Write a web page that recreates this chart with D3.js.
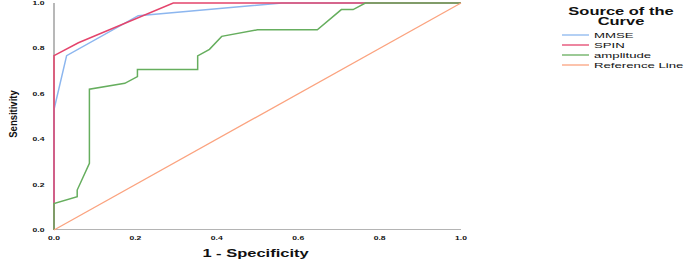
<!DOCTYPE html>
<html>
<head>
<meta charset="utf-8">
<script src="https://cdn.jsdelivr.net/npm/d3@7"></script>
<style>
  body { margin: 0; background: #fff; }
  text { font-family: Arial, "Liberation Sans", sans-serif; fill: #111; }
</style>
</head>
<body>
<div id="plot"></div>
<script>
// ROC points [1 - specificity, sensitivity]
var mmse = [[0, 0], [0, 0.53], [0.031, 0.768], [0.207, 0.944], [0.56, 1], [1, 1]];
var spin = [[0, 0], [0, 0.768], [0.06, 0.825], [0.293, 1], [1, 1]];
var amplitude = [[0, 0], [0, 0.117], [0.057, 0.147], [0.057, 0.176], [0.087, 0.294],
  [0.087, 0.62], [0.174, 0.646], [0.205, 0.676], [0.205, 0.707], [0.353, 0.707],
  [0.353, 0.767], [0.382, 0.796], [0.412, 0.853], [0.5, 0.882], [0.647, 0.882],
  [0.706, 0.971], [0.735, 0.971], [0.765, 1], [1, 1]];
var reference = [[0, 0], [1, 1]];

var seriesNames = ["MMSE", "SPIN", "amplitude", "Reference Line"];
var seriesData = [mmse, spin, amplitude, reference];
var seriesColors = ["#8cb6ef", "#e4446c", "#66ae5e", "#fba37f"];
var ticks = [0, 0.2, 0.4, 0.6, 0.8, 1.0];

var width = 685, height = 262;
var stretch = 1.65;

var svg = d3.select("#plot")
  .append("svg")
    .attr("width", width)
    .attr("height", height);

var x = d3.scaleLinear().domain([0, 1]).range([54, 461]);
var y = d3.scaleLinear().domain([0, 1]).range([230, 3]);

// axis lines
svg.append("line")
  .attr("x1", x(0)).attr("x2", x(1))
  .attr("y1", y(0) - 0.5).attr("y2", y(0) - 0.5)
  .style("stroke", "#b4b4b4").style("stroke-width", 1);
svg.append("line")
  .attr("x1", x(0)).attr("x2", x(0))
  .attr("y1", y(1)).attr("y2", y(0))
  .style("stroke", "#a0a0a0").style("stroke-width", 1.5);

// tick labels
svg.selectAll(".ytick")
  .data(ticks)
  .enter()
  .append("text")
    .attr("class", "ytick")
    .attr("text-anchor", "end")
    .attr("transform", function(d) { return "translate(44.5," + (y(d) + 2) + ") scale(" + stretch + ",1)"; })
    .style("font-size", "5.2px")
    .style("font-weight", "bold")
    .text(function(d) { return d.toFixed(1); });

svg.selectAll(".xtick")
  .data(ticks)
  .enter()
  .append("text")
    .attr("class", "xtick")
    .attr("text-anchor", "middle")
    .attr("transform", function(d) { return "translate(" + x(d) + ",239.5) scale(" + stretch + ",1)"; })
    .style("font-size", "5.2px")
    .style("font-weight", "bold")
    .text(function(d) { return d.toFixed(1); });

// axis titles
svg.append("text")
  .attr("text-anchor", "middle")
  .attr("transform", "translate(255.5,257) scale(" + stretch + ",1)")
  .style("font-size", "10px")
  .style("font-weight", "bold")
  .text("1 - Specificity");

svg.append("text")
  .attr("text-anchor", "middle")
  .attr("transform", "translate(16.5,114) scale(1.15,1) rotate(-90)")
  .style("font-size", "9.5px")
  .style("font-weight", "bold")
  .text("Sensitivity");

// curves
var line = d3.line()
  .x(function(d) { return x(d[0]); })
  .y(function(d) { return y(d[1]); });

svg.selectAll(".curve")
  .data(seriesData)
  .enter()
  .append("path")
    .attr("class", "curve")
    .attr("d", line)
    .style("fill", "none")
    .style("stroke", function(d, i) { return seriesColors[i]; })
    .style("stroke-width", function(d, i) { return i == 3 ? 1.3 : 1.5; });

// legend
svg.append("text")
  .attr("text-anchor", "middle")
  .attr("transform", "translate(621,15) scale(" + stretch + ",1)")
  .style("font-size", "10px")
  .style("font-weight", "bold")
  .text("Source of the");
svg.append("text")
  .attr("text-anchor", "middle")
  .attr("transform", "translate(621,24.5) scale(" + stretch + ",1)")
  .style("font-size", "10px")
  .style("font-weight", "bold")
  .text("Curve");

var legend = svg.selectAll(".legend")
  .data(seriesNames)
  .enter()
  .append("g")
    .attr("class", "legend")
    .attr("transform", function(d, i) { return "translate(0," + (35 + i * 10) + ")"; });

legend.append("line")
  .attr("x1", 562).attr("x2", 589)
  .attr("y1", 0).attr("y2", 0)
  .style("stroke", function(d, i) { return seriesColors[i]; })
  .style("stroke-width", 1.3);

legend.append("text")
  .attr("transform", "translate(594,3) scale(" + stretch + ",1)")
  .style("font-size", "8px")
  .text(function(d) { return d; });
</script>
</body>
</html>
